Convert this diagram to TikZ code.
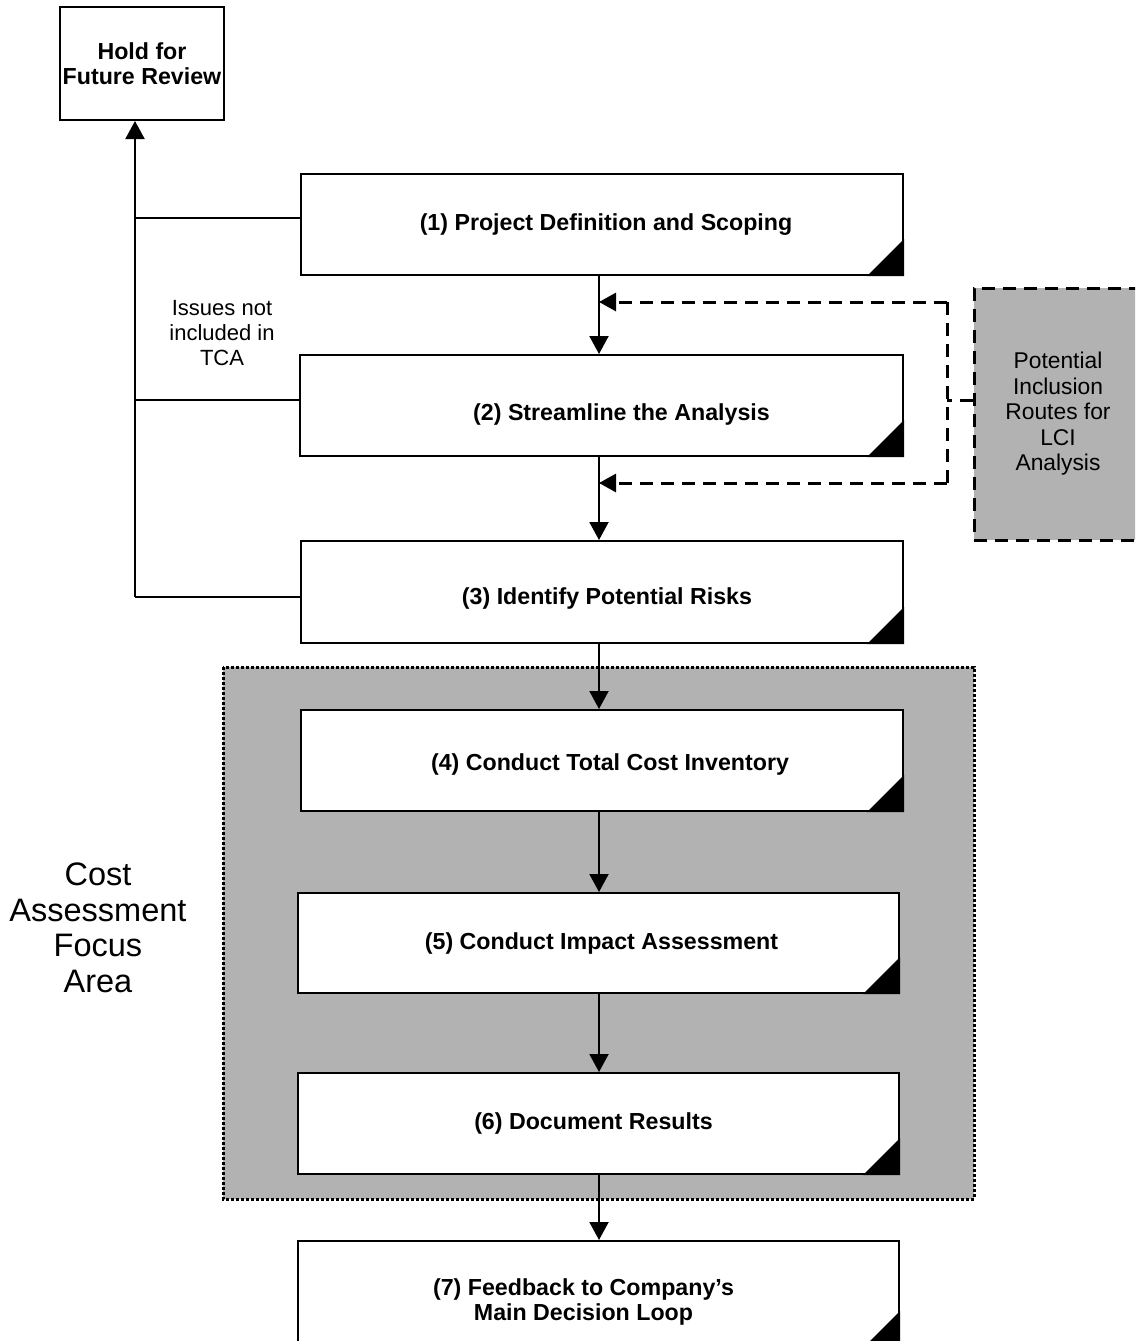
\documentclass[tikz,border=0pt]{standalone}
\usepackage{fontspec}
\setmainfont{Liberation Sans}
\usetikzlibrary{arrows.meta}
\definecolor{shade}{gray}{0.7}
\begin{document}
\begin{tikzpicture}[x=1pt,y=-1pt,
  box/.style={draw,line width=2pt,fill=white,minimum width=602pt,minimum height=101pt,inner sep=0pt},
  lbl/.style={font=\bfseries\fontsize{23.2}{25.5}\selectfont,align=center,inner sep=0pt},
  holdbox/.style={draw,line width=2pt,fill=white,minimum width=164pt,minimum height=113pt,
    inner sep=0pt,font=\bfseries\fontsize{23.2}{24.5}\selectfont,align=center},
  lcibox/.style={draw,line width=3pt,dash pattern=on 13pt off 8pt,fill=shade,minimum width=168pt,minimum height=252pt,
    inner sep=0pt,font=\fontsize{22.8}{25.5}\selectfont,align=center},
  focus/.style={fill=shade,draw,line width=3pt,dash pattern=on 3pt off 2pt},
  plain/.style={align=center,inner sep=0pt},
  fold/.style={fill=black},
  arr/.style={line width=2pt,-{Triangle[length=18pt,width=19pt]}},
  conn/.style={line width=2pt},
  dsh/.style={line width=3pt,dash pattern=on 13pt off 8pt},
  darr/.style={dsh,-{Triangle[length=17pt,width=18pt]}}
]
\useasboundingbox (0,0) rectangle (1135,1341);
\clip (0,0) rectangle (1135,1341);

% shaded focus area
\path[focus] (223,667) rectangle (974,1199);

% boxes
\node[holdbox] (hold) at (142,63.5) {Hold for\\Future Review};
\node[box,label={[lbl,xshift=4pt]center:(1) Project Definition and Scoping}] (b1) at (602,224.5) {};
\node[box,minimum width=603pt,label={[lbl,xshift=20pt,yshift=-9pt]center:(2) Streamline the Analysis}] (b2) at (601.5,405.5) {};
\node[box,minimum height=102pt,label={[lbl,xshift=5pt,yshift=-6pt]center:(3) Identify Potential Risks}] (b3) at (602,592) {};
\node[box,label={[lbl,xshift=8pt,yshift=-4pt]center:(4) Conduct Total Cost Inventory}] (b4) at (602,760.5) {};
\node[box,minimum width=601pt,minimum height=100pt,label={[lbl,xshift=3pt]center:(5) Conduct Impact Assessment}] (b5) at (598.5,943) {};
\node[box,minimum width=601pt,label={[lbl,xshift=-5pt]center:(6) Document Results}] (b6) at (598.5,1123.5) {};
\node[box,minimum width=601pt,minimum height=106pt,label={[lbl,xshift=-15pt,yshift=-8pt]center:(7) Feedback to Company's\\Main Decision Loop}] (b7) at (598.5,1294) {};
\node[lcibox] (lci) at (1058,414) {Potential\\Inclusion\\Routes for\\LCI\\Analysis};

% folded corners
\foreach \b in {b1,b2,b3,b4,b5,b6,b7}
  \fill[fold] (\b.south east) -- ++(-37pt,0pt) -- ++(37pt,37pt) -- cycle;

% free texts
\node[plain,font=\fontsize{22}{25}\selectfont] (issues) at (222,333) {Issues not\\included in\\TCA};
\node[plain,font=\fontsize{32.5}{35.5}\selectfont] (cost) at (98,928) {Cost\\Assessment\\Focus\\Area};

% connectors to hold box
\coordinate (v1) at (135,218);
\coordinate (v2) at (135,400);
\coordinate (v3) at (135,597);
\draw[conn] (b1.west |- v1) -- (v1);
\draw[conn] (b2.west |- v2) -- (v2);
\draw[conn] (b3.west |- v3) -- (v3);
\draw[arr] (v3) -- (hold.south -| v3);

% main flow
\coordinate (ax) at (599,0);
\draw[arr] (b1.south -| ax) -- (b2.north -| ax);
\draw[arr] (b2.south -| ax) -- (b3.north -| ax);
\draw[arr] (b3.south -| ax) -- (b4.north -| ax);
\draw[arr] (b4.south -| ax) -- (b5.north -| ax);
\draw[arr] (b5.south -| ax) -- (b6.north -| ax);
\draw[arr] (b6.south -| ax) -- (b7.north -| ax);

% dashed inclusion routes
\coordinate (d0) at (947,400);
\coordinate (d1) at (947,302);
\coordinate (d2) at (947,483);
\coordinate (m1) at (599,302);
\coordinate (m2) at (599,483);
\draw[dsh] (lci.west |- d0) -- (d0);
\draw[dsh] (d1) -- (d2);
\draw[darr] (d1) -- (m1);
\draw[darr] (d2) -- (m2);
\end{tikzpicture}
\end{document}
